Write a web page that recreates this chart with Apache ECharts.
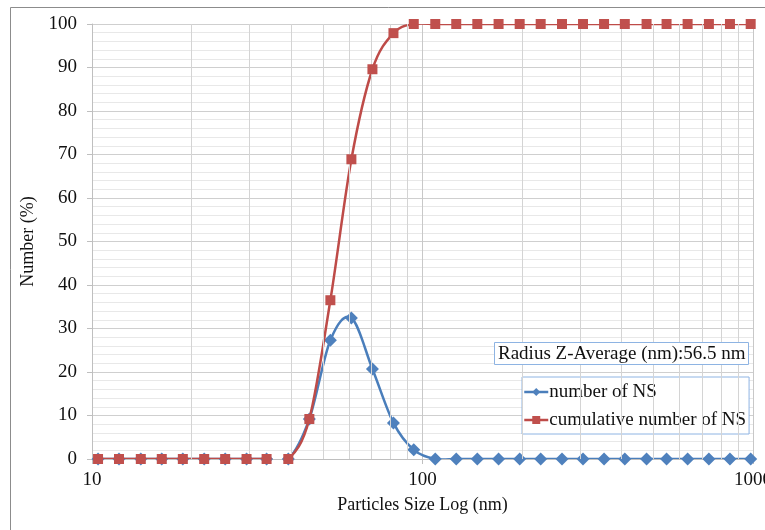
<!DOCTYPE html>
<html><head><meta charset="utf-8">
<script src="https://cdn.jsdelivr.net/npm/echarts@6/dist/echarts.min.js"></script>
<style>html,body{margin:0;padding:0;background:#fff}#c{width:765px;height:530px}</style>
</head><body><div id="c"></div>
<script>
// Particle size bins (nm)
const sizes = [10.43, 12.07, 14.05, 16.26, 18.83, 21.85, 25.29, 29.35, 33.75, 39.26,
  45.46, 52.63, 60.93, 70.55, 81.68, 94.1, 109.3, 126.5, 146.5, 169.9,
  196.8, 227.8, 264.3, 306.0, 354.3, 409.4, 476.4, 547.6, 634.1, 735.5, 851.7, 984.0];
const numberNS = [0, 0, 0, 0, 0, 0, 0, 0, 0, 0,
  9.2, 27.3, 32.4, 20.7, 8.3, 2.1, 0, 0, 0, 0,
  0, 0, 0, 0, 0, 0, 0, 0, 0, 0, 0, 0];
const cumulativeNS = [0, 0, 0, 0, 0, 0, 0, 0, 0, 0,
  9.2, 36.5, 68.9, 89.6, 97.9, 100, 100, 100, 100, 100,
  100, 100, 100, 100, 100, 100, 100, 100, 100, 100, 100, 100];
const minorXGrid = [20, 30, 40, 50, 60, 70, 80, 90, 200, 300, 400, 500, 600, 700, 800, 900];
const seriesNames = ['number of NS', 'cumulative number of NS'];
const annotation = 'Radius Z-Average (nm):56.5 nm';

const FONT = 'Liberation Serif';
const BLUE_LINE = '#4a7ebb', BLUE_MARK = '#4f81bd';
const RED_LINE = '#be4b48', RED_MARK = '#c0504d';
const chart = echarts.init(document.getElementById('c'), null, {renderer: 'canvas'});
const pair = (ys) => sizes.map((x, i) => [x, ys[i]]);

// Excel-like smoothed line: cubic Bezier segments between data points, positioned via the axes
function curveSeries(ys, color, z) {
  const n = sizes.length;
  return {
    type: 'custom', silent: true, z: z, clip: true,
    data: pair(ys), encode: {x: 0, y: 1},
    renderItem: function (params, api) {
      const i = params.dataIndex;
      if (i >= n - 1) return null;
      const P = (j) => { const k = Math.max(0, Math.min(n - 1, j)); return api.coord([sizes[k], ys[k]]); };
      const p0 = P(i - 1), p1 = P(i), p2 = P(i + 1), p3 = P(i + 2);
      const c1 = [p1[0] + (p2[0] - p0[0]) / 6, p1[1] + (p2[1] - p0[1]) / 6];
      const c2 = [p2[0] - (p3[0] - p1[0]) / 6, p2[1] - (p3[1] - p1[1]) / 6];
      return {
        type: 'bezierCurve',
        shape: {x1: p1[0], y1: p1[1], x2: p2[0], y2: p2[1], cpx1: c1[0], cpy1: c1[1], cpx2: c2[0], cpy2: c2[1]},
        style: {stroke: color, lineWidth: 2.5, fill: 'none', lineCap: 'round'}
      };
    }
  };
}

chart.setOption({
  animation: false,
  backgroundColor: '#fff',
  textStyle: {fontFamily: FONT},
  graphic: [{
    type: 'rect', z: -10, silent: true,
    shape: {x: 10.5, y: 7.5, width: 900, height: 700},
    style: {fill: 'none', stroke: '#8c8c8c', lineWidth: 1}
  }],
  title: {
    text: annotation, left: 494, top: 342,
    padding: [1, 3, 0, 4],
    borderColor: '#8eb4e3', borderWidth: 1, backgroundColor: '#fff',
    textStyle: {fontFamily: FONT, fontSize: 19, fontWeight: 'normal', color: '#111', lineHeight: 22}
  },
  legend: {
    data: [
      {name: seriesNames[0], lineStyle: {color: BLUE_LINE, width: 2.5, opacity: 1}},
      {name: seriesNames[1], lineStyle: {color: RED_LINE, width: 2.5, opacity: 1}}
    ],
    orient: 'vertical', left: 522, top: 377,
    padding: [4, 3, 3, 1], itemGap: 6, itemWidth: 24, itemHeight: 10,
    borderColor: '#8eb4e3', borderWidth: 1, backgroundColor: '#fff',
    textStyle: {fontFamily: FONT, fontSize: 19, color: '#111', lineHeight: 22, padding: [0, 0, 0, -4]}
  },
  grid: {left: 92, right: 12, top: 24, bottom: 71, containLabel: false, outerBoundsMode: 'none'},
  xAxis: {
    type: 'log', logBase: 10, min: 10, max: 1000,
    name: 'Particles Size Log (nm)', nameLocation: 'middle', nameGap: 37,
    nameTextStyle: {fontFamily: FONT, fontSize: 18, color: '#111'},
    axisLine: {show: true, lineStyle: {color: '#bfbfbf'}},
    axisTick: {show: true, length: 5, lineStyle: {color: '#bfbfbf'}},
    axisLabel: {fontFamily: FONT, fontSize: 19, color: '#111', margin: 12,
      formatter: (v) => String(Math.round(v))},
    splitLine: {show: true, lineStyle: {color: '#c8c8c8'}},
    minorTick: {show: false}, minorSplitLine: {show: false}
  },
  yAxis: {
    type: 'value', min: 0, max: 100, interval: 10,
    name: 'Number (%)', nameLocation: 'middle', nameGap: 50,
    nameTextStyle: {fontFamily: FONT, fontSize: 18, color: '#111'},
    axisLine: {show: true, lineStyle: {color: '#bfbfbf'}},
    axisTick: {show: true, length: 5, lineStyle: {color: '#bfbfbf'}},
    axisLabel: {fontFamily: FONT, fontSize: 19, color: '#111', margin: 15},
    splitLine: {show: true, lineStyle: {color: '#cfcfcf'}},
    minorTick: {show: false, splitNumber: 5},
    minorSplitLine: {show: true, lineStyle: {color: '#e8e8e8'}}
  },
  series: [
    {
      name: '_grid', type: 'line', data: [], silent: true, z: 0,
      markLine: {
        silent: true, symbol: 'none', label: {show: false},
        lineStyle: {color: '#d4d4d4', type: 'solid', width: 1},
        emphasis: {disabled: true},
        data: minorXGrid.map(v => ({xAxis: v}))
      }
    },
    curveSeries(numberNS, BLUE_LINE, 2),
    {
      name: seriesNames[0], type: 'line', data: pair(numberNS),
      symbol: 'diamond', symbolSize: 13, z: 3,
      lineStyle: {color: BLUE_LINE, width: 2.5, opacity: 0},
      itemStyle: {color: BLUE_MARK}
    },
    curveSeries(cumulativeNS, RED_LINE, 4),
    {
      name: seriesNames[1], type: 'line', data: pair(cumulativeNS),
      symbol: 'rect', symbolSize: 10, z: 5,
      lineStyle: {color: RED_LINE, width: 2.5, opacity: 0},
      itemStyle: {color: RED_MARK}
    }
  ]
});
</script>
</body></html>
